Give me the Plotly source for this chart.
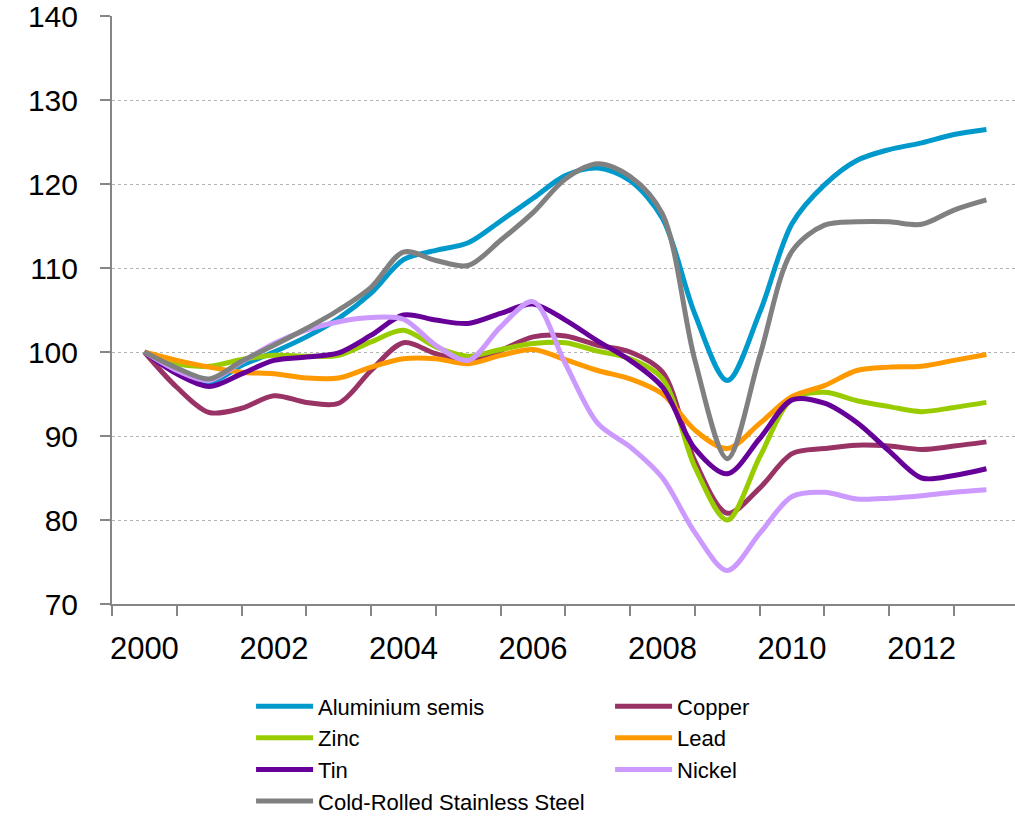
import plotly.graph_objects as go

# semiannual observations, 2000.0 .. 2013.0
years = [2000 + k / 2 for k in range(27)]

aluminium = [100, 98.0, 96.4, 98.4, 100.0, 101.8, 104.0, 107.0, 111.0, 112.1, 113.0, 115.6, 118.3,
             121.0, 121.9, 120.4, 115.9, 104.5, 96.6, 104.7, 115.3, 119.9, 122.8, 124.1, 124.9, 125.9, 126.5]
copper = [100, 95.8, 92.8, 93.3, 94.8, 94.0, 93.9, 97.8, 101.1, 99.8, 99.0, 100.2, 101.8,
          101.9, 100.8, 100.0, 97.6, 87.0, 80.8, 83.8, 87.9, 88.5, 88.9, 88.8, 88.4, 88.8, 89.3]
zinc = [100, 98.6, 98.3, 99.1, 99.6, 99.5, 99.6, 101.2, 102.6, 100.6, 99.5, 100.3, 101.0,
        101.1, 100.1, 99.2, 96.8, 86.3, 80.0, 87.5, 94.4, 95.2, 94.2, 93.5, 92.9, 93.4, 94.0]
lead = [100, 99.0, 98.2, 97.6, 97.4, 96.9, 96.9, 98.2, 99.2, 99.2, 98.6, 99.6, 100.3,
        99.1, 97.8, 96.8, 95.0, 90.7, 88.5, 91.5, 94.7, 96.0, 97.8, 98.2, 98.3, 99.0, 99.7]
tin = [100, 97.4, 95.9, 97.4, 99.0, 99.4, 99.9, 102.0, 104.4, 103.8, 103.4, 104.6, 105.7,
       103.8, 101.3, 99.0, 95.8, 88.5, 85.5, 89.7, 94.3, 93.9, 91.6, 88.2, 85.0, 85.3, 86.1]
nickel = [100, 97.8, 96.6, 98.8, 101.0, 102.6, 103.6, 104.1, 103.9, 100.8, 99.0, 103.0, 106.0,
          98.6, 91.5, 88.7, 85.0, 78.5, 74.0, 78.4, 82.8, 83.3, 82.5, 82.6, 82.9, 83.3, 83.6]
stainless = [100, 98.1, 96.8, 98.9, 100.8, 102.8, 105.0, 107.7, 111.9, 110.9, 110.3, 113.3, 116.6,
             120.6, 122.4, 120.9, 116.4, 99.0, 87.3, 99.5, 112.0, 115.1, 115.5, 115.5, 115.2, 116.9, 118.1]

series_names = ["Aluminium semis", "Copper", "Zinc", "Lead", "Tin", "Nickel",
                "Cold-Rolled Stainless Steel"]
series_values = [aluminium, copper, zinc, lead, tin, nickel, stainless]
series_colors = ["#0099CC", "#993366", "#99CC00", "#FF9900", "#660099", "#CC99FF", "#808080"]

year_ticks = [2000, 2002, 2004, 2006, 2008, 2010, 2012]
year_labels = [str(y) for y in year_ticks]
y_ticks = [70, 80, 90, 100, 110, 120, 130, 140]

FONT = "Liberation Sans, Arial, sans-serif"

fig = go.Figure()
for name, vals, col in zip(series_names, series_values, series_colors):
    fig.add_trace(go.Scatter(
        x=years, y=vals, name=name, mode="lines",
        line=dict(color=col, width=5, shape="spline", smoothing=0.9),
    ))

fig.update_layout(
    width=1015, height=817,
    margin=dict(l=112, r=0, t=16, b=213, autoexpand=False),
    paper_bgcolor="white", plot_bgcolor="white",
    font=dict(family=FONT, color="black"),
    showlegend=True,
    legend=dict(
        orientation="h", x=0.154, xanchor="left", y=-0.1385, yanchor="top",
        font=dict(size=22, family=FONT, color="black"),
        itemwidth=57, entrywidth=287, entrywidthmode="pixels",
        bgcolor="rgba(0,0,0,0)", traceorder="normal",
    ),
    xaxis=dict(
        range=[1999.5, 1999.5 + 903 / 64.77], automargin=False,
        tickmode="array", tickvals=year_ticks, ticktext=year_labels,
        ticks="", showgrid=False, zeroline=False,
        showline=True, linecolor="#868686", linewidth=2,
        tickfont=dict(size=31, family=FONT, color="black"),
        ticklabelstandoff=16, ticklabeloverflow="allow",
        minor=dict(tick0=1999.5, dtick=1, ticks="outside", ticklen=10,
                   tickcolor="#868686", tickwidth=2, showgrid=False),
    ),
    yaxis=dict(
        range=[70, 140], automargin=False, tickmode="array", tickvals=y_ticks,
        ticks="outside", ticklen=10, tickcolor="#868686", tickwidth=2,
        showline=True, linecolor="#868686", linewidth=2,
        showgrid=True, gridcolor="#b3b3b3", gridwidth=1, griddash="dot",
        zeroline=False,
        tickfont=dict(size=30, family=FONT, color="black"),
        ticklabelstandoff=16, ticklabeloverflow="allow",
    ),
)

fig.write_html(
    "out.html",
    config={"displayModeBar": False},
    post_script="document.body.style.margin='0px';document.body.style.overflow='hidden';",
)
